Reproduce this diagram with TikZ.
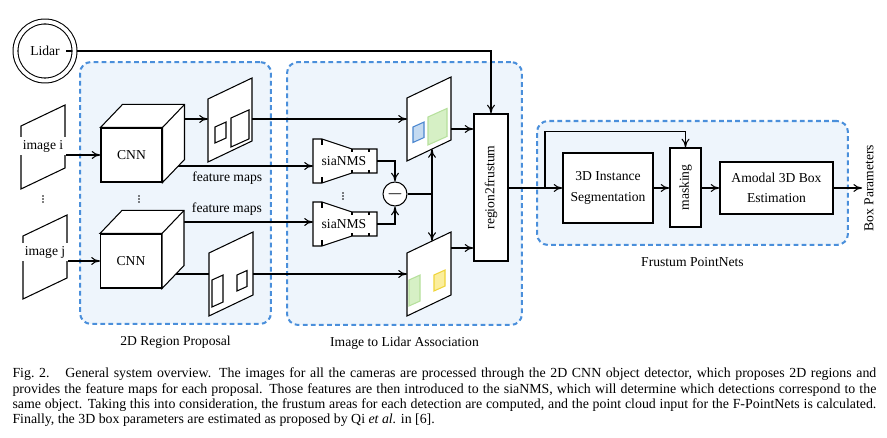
\documentclass[tikz,border=0pt]{standalone}
\usepackage{fontspec}
\setmainfont{Liberation Serif}
\usepackage{amsmath}
\usepackage{xcolor}
\usepackage{tikz}
\usetikzlibrary{arrows.meta, positioning, calc}

\definecolor{GroupBlue}{HTML}{4A8FDB}
\definecolor{GroupFill}{HTML}{EEF5FC}
\definecolor{PatchBlue}{HTML}{C4DAF1}
\definecolor{PatchBlueLine}{HTML}{4A86CF}
\definecolor{PatchGreen}{HTML}{D6F0C5}
\definecolor{PatchGreenLine}{HTML}{B6E09C}
\definecolor{PatchYellow}{HTML}{FBEE9C}
\definecolor{PatchYellowLine}{HTML}{EFD43A}

\newcommand{\DiagramFont}{\fontsize{7.75}{11.7}\selectfont}
\newcommand{\CaptionFont}{\fontsize{7.9}{8.7}\selectfont}

\newcommand{\SlantFrame}[2]{%
  \draw[FrameStyle] (#2) coordinate (#1-lt) -- ++(44,-21) coordinate (#1-rt)
    -- ++(0,63) coordinate (#1-rb) -- ++(-44,21) coordinate (#1-lb) -- cycle;}
\newcommand{\Patch}[4]{%
  \draw[#1] (#2) -- ++(#3,-0.45*#3) -- ++(0,#4) -- ++(-#3,0.45*#3) -- cycle;}
\newcommand{\SiaBlock}[2]{%
  \begin{scope}[shift={(#2)}]
    \draw[FrameStyle] (-31,-22) -- (-22,-22) -- (8,-12) -- (33,-12)
      -- (33,12) -- (8,12) -- (-22,22) -- (-31,22) -- cycle;
    \draw (-22,-22) -- (-22,-16) (-22,22) -- (-22,16)
      (8,-12) -- (8,-9) (8,12) -- (8,9) (25,-12) -- (25,-9) (25,12) -- (25,9);
    \coordinate (#1-w) at (-31,0);
    \coordinate (#1-e) at (33,0);
  \end{scope}
  \node[inner sep=0.5pt] (#1) at (#2) {siaNMS};}
\newcommand{\CubeFaces}[1]{%
  \draw[FrameStyle] (#1.north west) -- ++(22,-23) -- ($(#1.north east)+(22,-23)$) coordinate (#1-bne)
    -- ($(#1.south east)+(22,-23)$) -- (#1.south east) -- (#1.north east) -- cycle;
  \draw (#1.north east) -- (#1-bne);}

\begin{document}
\begin{tikzpicture}[x=0.02cm, y=-0.02cm, line width=0.6pt, font=\DiagramFont, >={To[length=5pt,width=4.5pt]}]
        \useasboundingbox (0,0) rectangle (887,438);
        \tikzstyle{GroupStyle} = [draw=GroupBlue, fill=GroupFill, line width=1.15pt, dash pattern=on 2.7pt off 1.9pt, rounded corners=0.22cm, inner sep=0]
        \tikzstyle{FrameStyle} = [draw, fill=white]
        \tikzstyle{BlockStyle} = [draw, fill=white, align=center, inner sep=0]
        \tikzstyle{BluePatch} = [draw=PatchBlueLine, fill=PatchBlue]
        \tikzstyle{GreenPatch} = [draw=PatchGreenLine, fill=PatchGreen]
        \tikzstyle{YellowPatch} = [draw=PatchYellowLine, fill=PatchYellow]

        \node[GroupStyle, minimum width=3.82cm, minimum height=5.24cm] (rp) at (175.5,193) {};
        \node[GroupStyle, minimum width=4.7cm, minimum height=5.26cm] (ila) at (404.5,193.5) {};
        \node[GroupStyle, minimum width=6.22cm, minimum height=2.48cm] (fp) at (692.5,183) {};
        \node[below=0.1cm of rp] (rpLabel) {2D Region Proposal};
        \node[below=0.1cm of ila] (ilaLabel) {Image to Lidar Association};
        \node[below=0.1cm of fp] (fpLabel) {Frustum PointNets};

        \SlantFrame{imgI}{21,126}
        \SlantFrame{imgJ}{23,236}
        \SlantFrame{fmA}{208,99}
        \Patch{FrameStyle}{215,127}{11}{16}
        \Patch{FrameStyle}{231,118}{18}{29}
        \SlantFrame{fmB}{209,253}
        \Patch{FrameStyle}{212,280}{11}{27}
        \Patch{FrameStyle}{237,275}{10}{16}
        \SlantFrame{lmA}{407,98}
        \Patch{BluePatch}{413,127}{11}{15.5}
        \Patch{GreenPatch}{428,117}{19}{28}
        \SlantFrame{lmB}{407,253}
        \Patch{GreenPatch}{409,280}{11}{26}
        \Patch{YellowPatch}{434,275}{11}{16}

        \node[fill=white, inner sep=1.5pt] (imgi) at (43,146) {image i};
        \node[fill=white, inner sep=1.5pt] (imgj) at (45,252) {image j};
        \node (lidar) at (45,51) {Lidar};
        \node[BlockStyle, minimum width=1.22cm, minimum height=1.08cm] (cnnA) at (131.5,155) {CNN};
        \node[BlockStyle, minimum width=1.22cm, minimum height=1.08cm] (cnnB) at (131,261) {CNN};
        \SiaBlock{nmsA}{344,161}
        \SiaBlock{nmsB}{344,224}
        \node[draw, circle, fill=white, minimum size=0.48cm, inner sep=0] (minus) at (395,194) {\large$-$};
        \node[BlockStyle, minimum width=0.68cm, minimum height=2.94cm] (r2f) at (491,187.5) {\rotatebox{90}{region2frustum}};
        \node[BlockStyle, minimum width=1.8cm, minimum height=1.4cm] (seg) at (608,188) {3D Instance\\Segmentation};
        \node[BlockStyle, minimum width=0.62cm, minimum height=1.58cm] (mask) at (685.5,187.5) {\rotatebox{90}{masking}};
        \node[BlockStyle, minimum width=2.26cm, minimum height=1.04cm] (amodal) at (776.5,188) {Amodal 3D Box\\Estimation};
        \node[inner sep=1pt] (params) at (869,188) {\rotatebox{90}{Box Parameters}};
        \foreach \dx/\dy in {43/199, 139/199, 343/196}
            \foreach \dd in {-3,0,3}
                \fill (\dx,\dy+\dd) circle (0.5pt);

        \coordinate (rowA) at (0,119);
        \coordinate (rowB) at (0,274);
        \coordinate (rowC) at (0,129);
        \coordinate (rowE) at (0,248);
        \coordinate (rowF1) at (0,166);
        \coordinate (rowF2) at (0,222);
        \coordinate (split) at (545,188);
        \coordinate (upTip) at ($(lmA-lb)!25/44!(lmA-rb)$);
        \coordinate (downTip) at ($(lmB-lt)!25/44!(lmB-rt)$);

        \draw[->] (lidar.east) -| (r2f.north);
        \draw[->] (imgi.east |- cnnA.west) -- (cnnA.west);
        \draw[->] (imgj.east |- cnnB.west) -- (cnnB.west);
        \draw[->] (cnnA.east |- rowA) -- (fmA-lt |- rowA);
        \draw[->] (fmA-rt |- rowA) -- (lmA-lt |- rowA);
        \draw (cnnB.east |- rowB) -- (fmB-lt |- rowB);
        \draw[->] (fmB-rt |- rowB) -- (lmB-lt |- rowB);
        \draw[->] (cnnA.east |- rowF1) -- (nmsA-w |- rowF1) node[pos=0.43, below] (fmLabelA) {feature maps};
        \draw[->] (cnnB.east |- rowF2) -- (nmsB-w |- rowF2) node[pos=0.43, above] (fmLabelB) {feature maps};
        \draw[->] (nmsA-e) -| (minus.north);
        \draw[->] (nmsB-e) -| (minus.south);
        \draw[<->] (upTip) -- (downTip);
        \draw (minus.east) -- (minus.east -| upTip);
        \draw[->] (lmA-rt |- rowC) -- (r2f.west |- rowC);
        \draw[->] (lmB-rt |- rowE) -- (r2f.west |- rowE);
        \draw[->] (r2f.east |- seg.west) -- (seg.west);
        \draw[->] (split) |- ([yshift=0.32cm]mask.north) -- (mask.north);
        \draw[->] (seg.east) -- (seg.east -| mask.west);
        \draw[->] (mask.east |- amodal.west) -- (amodal.west);
        \draw[->] (amodal.east) -- (amodal.east -| params.west);

        \CubeFaces{cnnA}
        \CubeFaces{cnnB}
        \node[draw, double, double distance=2.2pt, circle, minimum size=1.18cm, inner sep=0] (lidarRing) at (lidar) {};

        \node[anchor=north west, text width=17.28cm, align=justify, inner sep=0, font=\CaptionFont] (caption) at (12,367.5)
          {\noindent Fig.~2.\hskip 9pt General system overview. The images for all the cameras are processed through the 2D CNN object detector, which proposes 2D regions and provides the feature maps for each proposal. Those features are then introduced to the siaNMS, which will determine which detections correspond to the same object. Taking this into consideration, the frustum areas for each detection are computed, and the point cloud input for the F-PointNets is calculated. Finally, the 3D box parameters are estimated as proposed by Qi \textit{et al.} in [6].};
    \end{tikzpicture}
\end{document}
